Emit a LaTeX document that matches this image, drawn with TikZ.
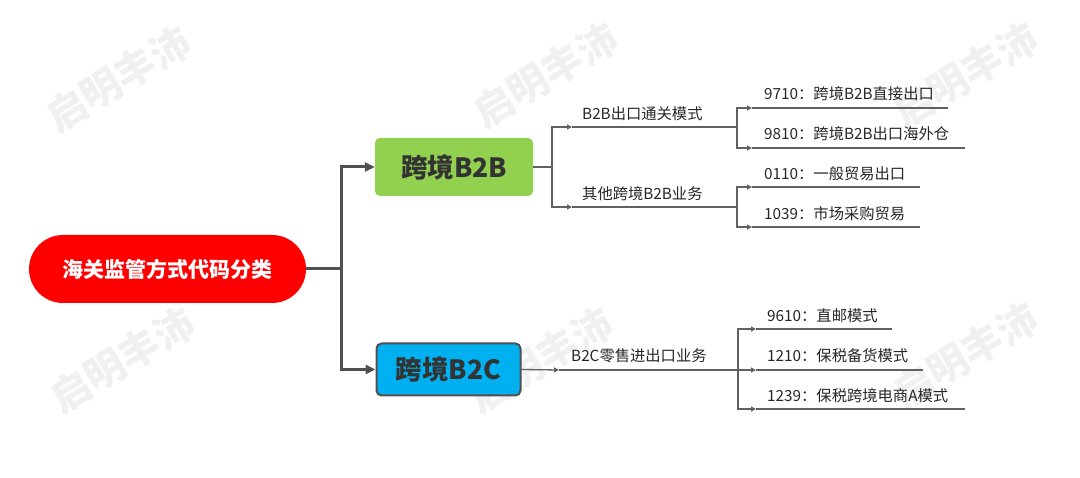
\documentclass[tikz,border=0pt]{standalone}
\usepackage{fontspec}
\setmainfont{Noto Sans CJK SC}
\usetikzlibrary{positioning,arrows.meta}
\usepackage{xcolor}
\definecolor{rootred}{HTML}{FF0000}
\definecolor{bgreen}{HTML}{92D050}
\definecolor{cblue}{HTML}{00B0F0}
\definecolor{linegray}{HTML}{505050}
\definecolor{txtgray}{HTML}{262626}

\begin{document}
\begin{tikzpicture}[x=1pt, y=-1pt,
    every node/.style={font=\fontsize{15.3pt}{18pt}\selectfont, text=txtgray},
    rootbox/.style={fill=rootred, rounded corners=34pt, minimum width=277pt, minimum height=68pt, inner sep=0pt, font=\fontsize{21pt}{24pt}\selectfont\bfseries, text=white},
    catbox/.style={rounded corners=5pt, inner sep=0pt, font=\fontsize{26.5pt}{30pt}\selectfont\bfseries, text=black!80},
    lbl/.style={anchor=west, inner sep=0pt},
    mainline/.style={line width=3pt, draw=linegray},
    subline/.style={line width=1.3pt, draw=linegray!90},
    bigtip/.style={-{Triangle[length=10pt, width=9pt]}},
    smalltip/.style={-{Triangle[length=5pt, width=5pt]}},
    wmark/.style={rotate=31, text=black!6, font=\fontsize{40pt}{44pt}\selectfont\bfseries}]
    \useasboundingbox (0,0) rectangle (1080,478);

    % watermarks
    \node[wmark] (w1) at (118,79) {启明丰沛};
    \node[wmark] (w2) at (545,75) {启明丰沛};
    \node[wmark] (w3) at (965,75) {启明丰沛};
    \node[wmark] (w4) at (122,360) {启明丰沛};
    \node[wmark] (w5) at (540,360) {启明丰沛};
    \node[wmark] (w6) at (965,355) {启明丰沛};

    \node[rootbox] (root) at (167.5,269) {海关监管方式代码分类};
    \node[catbox, fill=bgreen, minimum width=158pt, minimum height=58pt] (b2b) at (454,167) {跨境B2B};
    \node[catbox, fill=cblue, draw=linegray, line width=2pt, minimum width=144pt, minimum height=52pt] (b2c) at (448.5,369.5) {跨境B2C};

    \coordinate (trunk) at (341,269);
    \draw[mainline] (root.east) -- (trunk);
    \draw[mainline, bigtip] (trunk) |- (b2b.west);
    \draw[mainline, bigtip] (trunk) |- (b2c.west);

    % B2B branches
    \coordinate (j1) at (552,167);
    \coordinate (a1) at (572,127);
    \coordinate (e1) at (737,127);
    \coordinate (a2) at (572,207);
    \coordinate (e2) at (737,207);
    \draw[subline] (b2b.east) -- (j1);
    \draw[subline, smalltip] (j1) |- (a1);
    \draw[subline] (a1) -- (e1);
    \draw[subline, smalltip] (j1) |- (a2);
    \draw[subline] (a2) -- (e2);
    \node[lbl] (t1) at (582,114) {B2B出口通关模式};
    \node[lbl] (t2) at (582,194) {其他跨境B2B业务};

    \coordinate (a11) at (752,108);
    \coordinate (f11) at (948,108);
    \coordinate (a12) at (752,148);
    \coordinate (f12) at (965,148);
    \draw[subline, smalltip] (e1) |- (a11);
    \draw[subline] (a11) -- (f11);
    \draw[subline, smalltip] (e1) |- (a12);
    \draw[subline] (a12) -- (f12);
    \node[lbl] (c1) at (764,94) {9710：跨境B2B直接出口};
    \node[lbl] (c2) at (764,134) {9810：跨境B2B出口海外仓};

    \coordinate (a21) at (752,187);
    \coordinate (f21) at (920,187);
    \coordinate (a22) at (752,227);
    \coordinate (f22) at (920,227);
    \draw[subline, smalltip] (e2) |- (a21);
    \draw[subline] (a21) -- (f21);
    \draw[subline, smalltip] (e2) |- (a22);
    \draw[subline] (a22) -- (f22);
    \node[lbl] (c3) at (764,174) {0110：一般贸易出口};
    \node[lbl] (c4) at (764,214) {1039：市场采购贸易};

    % B2C branches
    \coordinate (a3) at (559,370);
    \coordinate (e3) at (738,370);
    \draw[subline, smalltip] (b2c.east) -- (a3);
    \draw[subline] (a3) -- (e3);
    \node[lbl] (t3) at (571,356) {B2C零售进出口业务};

    \coordinate (a31) at (756,329);
    \coordinate (f31) at (892,329);
    \coordinate (a32) at (756,370);
    \coordinate (f32) at (923,370);
    \coordinate (a33) at (756,409);
    \coordinate (f33) at (965,409);
    \draw[subline, smalltip] (e3) |- (a31);
    \draw[subline] (a31) -- (f31);
    \draw[subline, smalltip] (e3) -- (a32);
    \draw[subline] (a32) -- (f32);
    \draw[subline, smalltip] (e3) |- (a33);
    \draw[subline] (a33) -- (f33);
    \node[lbl] (c5) at (767,316) {9610：直邮模式};
    \node[lbl] (c6) at (767,356) {1210：保税备货模式};
    \node[lbl] (c7) at (767,396) {1239：保税跨境电商A模式};
\end{tikzpicture}
\end{document}
